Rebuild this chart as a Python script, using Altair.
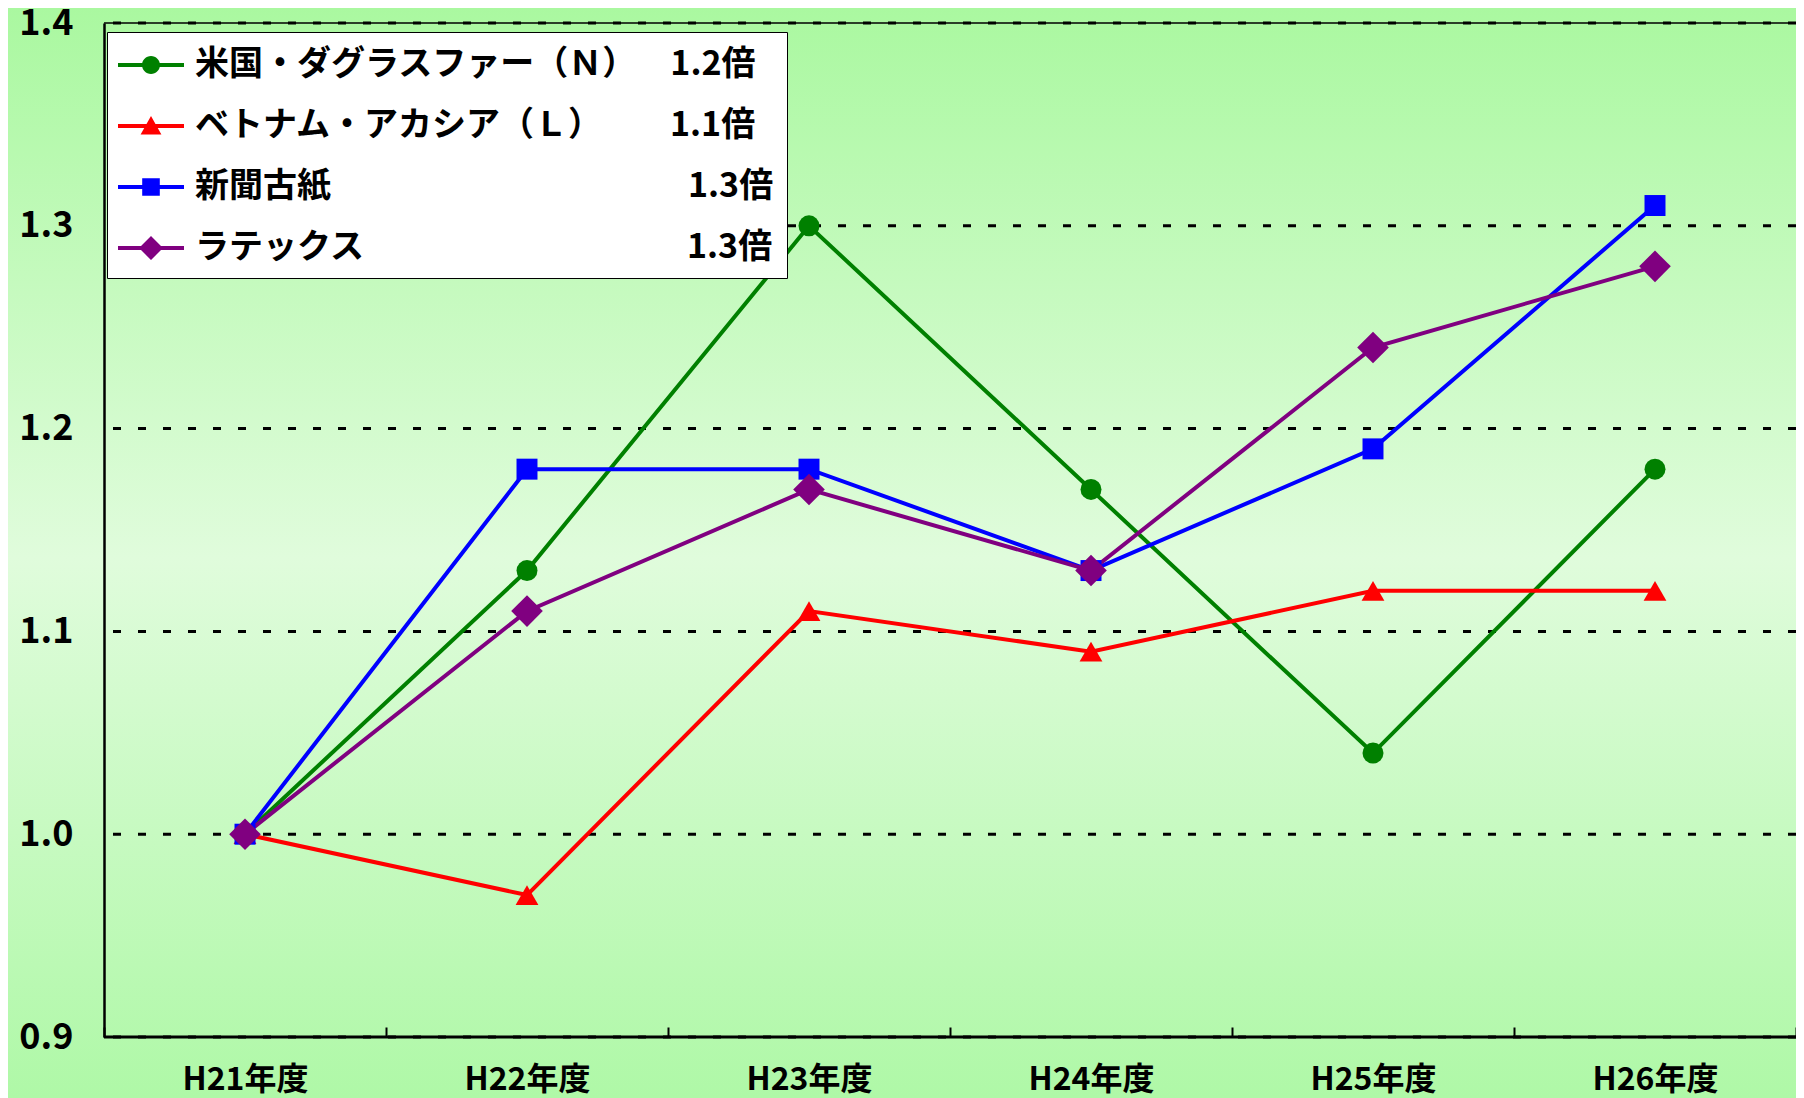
import altair as alt
import pandas as pd

years = ["H21年度", "H22年度", "H23年度", "H24年度", "H25年度", "H26年度"]
names = ["米国・ダグラスファー（Ｎ）", "ベトナム・アカシア（Ｌ）", "新聞古紙", "ラテックス"]
ratios = ["1.2倍", "1.1倍", "1.3倍", "1.3倍"]
douglas = [1.00, 1.13, 1.30, 1.17, 1.04, 1.18]
acacia = [1.00, 0.97, 1.11, 1.09, 1.12, 1.12]
newspaper = [1.00, 1.18, 1.18, 1.13, 1.19, 1.31]
latex = [1.00, 1.11, 1.17, 1.13, 1.24, 1.28]
y_ticks = [0.9, 1.0, 1.1, 1.2, 1.3, 1.4]

colors = ["#008000", "#ff0000", "#0000ff", "#800080"]
shapes = ["circle", "triangle-up", "square", "diamond"]
sizes = [440, 520, 440, 1000]
pads = [1, 2, 10, 9]

# legend symbols: line segment + marker (custom paths)
bar = "M-1.65,-0.1H1.65V0.1H-1.65Z"
legend_paths = [
    bar + "M0.45,0A0.45,0.45 0 1,1 -0.45,0A0.45,0.45 0 1,1 0.45,0Z",
    bar + "M0,-0.5L0.52,0.42L-0.52,0.42Z",
    bar + "M-0.44,-0.44H0.44V0.44H-0.44Z",
    bar + "M0,-0.6L0.6,0L0,0.6L-0.6,0Z",
]

labels = [n + "\u3000" * p + "\u2002" + r for n, p, r in zip(names, pads, ratios)]
series_values = [douglas, acacia, newspaper, latex]

rows = []
for lab, vals in zip(labels, series_values):
    for yr, v in zip(years, vals):
        rows.append({"year": yr, "series": lab, "value": v})
df = pd.DataFrame(rows)
grid_df = pd.DataFrame({"value": y_ticks})

W, H = 1692, 1014
FONT = "Noto Sans CJK JP"

xenc = alt.X("year:N", sort=years, bandPosition=0.5,
             scale=alt.Scale(type="band", domain=years, paddingInner=0, paddingOuter=0),
             axis=alt.Axis(title=None, labelAngle=0, labelFont=FONT, labelFontSize=32,
                           labelFontWeight="bold", labelColor="black", labelPadding=27,
                           tickBand="extent", tickSize=10, tickColor="black", tickWidth=2,
                           offset=-10, domain=False, grid=False, zindex=1))
yenc = alt.Y("value:Q",
             scale=alt.Scale(domain=[0.9, 1.4], nice=False, zero=False),
             axis=alt.Axis(title=None, values=y_ticks, format=".1f", labelFont=FONT,
                           labelFontSize=36, labelFontWeight="bold", labelColor="black",
                           labelPadding=31, tickSize=0, domainColor="black", domainWidth=2.5,
                           grid=False, zindex=1))

cscale = alt.Scale(domain=labels, range=colors)

grad = alt.LinearGradient(
    gradient="linear", x1=0, x2=0, y1=0, y2=1,
    stops=[alt.GradientStop(offset=0, color="#aaf8a0"),
           alt.GradientStop(offset=0.5, color="#e0fcdc"),
           alt.GradientStop(offset=1, color="#aef8a6")])

base = alt.Chart(df)

bg = alt.Chart(pd.DataFrame({"a": [0]})).mark_rect(color=grad).encode(
    x=alt.value(-96), x2=alt.value(W + 20), y=alt.value(-15), y2=alt.value(H + 70))

grid = alt.Chart(grid_df).mark_rule(color="black", strokeWidth=3, strokeDash=[8, 17]).encode(
    y=alt.Y("value:Q", scale=alt.Scale(domain=[0.9, 1.4], nice=False, zero=False)))

top_rule = alt.Chart(pd.DataFrame({"a": [0]})).mark_rule(color="black", strokeWidth=1.5).encode(
    y=alt.datum(1.4))
bottom_rule = alt.Chart(pd.DataFrame({"a": [0]})).mark_rule(color="black", strokeWidth=3).encode(
    y=alt.datum(0.9))

series_layers = []
for lab, col in zip(labels, colors):
    series_layers.append(
        base.transform_filter(alt.datum.series == lab)
        .mark_line(strokeWidth=4, color=col)
        .encode(x=xenc, y=yenc))
for lab, col, shp, sz in zip(labels, colors, shapes, sizes):
    series_layers.append(
        base.transform_filter(alt.datum.series == lab)
        .mark_point(shape=shp, filled=True, size=sz, color=col, opacity=1, strokeWidth=0)
        .encode(x=xenc, y=yenc))

leg = alt.Legend(title=None, orient="none", legendX=3, legendY=9,
                 fillColor="white", strokeColor="black", padding=13,
                 labelFont=FONT, labelFontSize=34, labelFontWeight="bold",
                 labelColor="black", labelLimit=3000, labelOffset=24,
                 symbolOffset=11, symbolSize=1600, symbolStrokeWidth=0,
                 rowPadding=24, symbolOpacity=1, zindex=2)

legend_layer = base.mark_point(filled=True, opacity=0, size=0).encode(
    x=xenc, y=yenc,
    color=alt.Color("series:N", scale=cscale, legend=leg),
    shape=alt.Shape("series:N", scale=alt.Scale(domain=labels, range=legend_paths), legend=leg))

chart = alt.layer(bg, grid, top_rule, *series_layers, bottom_rule, legend_layer).properties(
    width=W, height=H,
    autosize=alt.AutoSizeParams(type="none"),
    padding={"left": 96, "top": 15, "right": 0, "bottom": 61},
    background="#b4f8ac",
).configure_view(stroke=None)

chart.save("out.html", embed_options={"renderer": "svg", "actions": False})
